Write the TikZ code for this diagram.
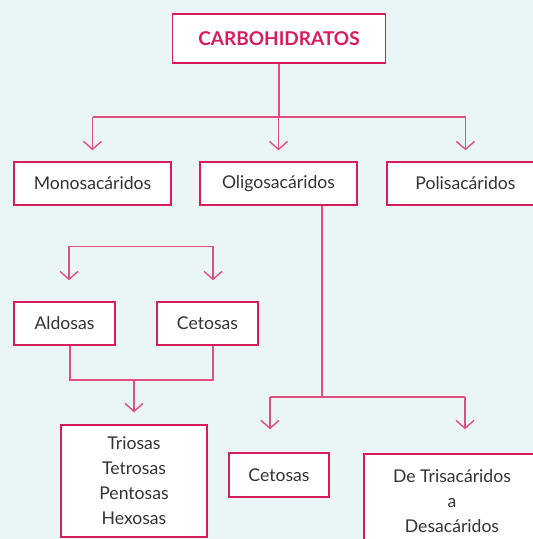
\documentclass[tikz,border=0pt]{standalone}
\usepackage{fontspec}
\setmainfont{Lato}
\usetikzlibrary{arrows.meta,calc}
\definecolor{bgc}{RGB}{234,246,246}
\definecolor{bordc}{RGB}{214,28,90}
\definecolor{connc}{RGB}{222,80,128}
\definecolor{txtc}{RGB}{51,51,51}
\tikzset{
  box/.style={draw=bordc, line width=1.4pt, fill=white, text=txtc, inner sep=0pt,
    font=\fontsize{17.6}{25}\selectfont, align=center},
  conn/.style={draw=connc, line width=1.4pt},
  arr/.style={conn, -{Straight Barb[length=8pt,width=18pt,line width=1.4pt]}},
}
\begin{document}
\begin{tikzpicture}[x=1pt,y=-1pt]
\fill[bgc] (0,0) rectangle (533,539);
\useasboundingbox (0,0) rectangle (533,539);
\begin{scope}
\clip (0,0) rectangle (533,539);
% nodes
\node[box, minimum width=213pt, minimum height=49pt, text=bordc,
  font=\fontsize{19}{23}\selectfont\bfseries] (carbo) at (279,38.5) {CARBOHIDRATOS};
\node[box, minimum width=157pt, minimum height=43pt] (mono) at (92.5,183.5) {Monosacáridos};
\node[box, minimum width=157pt, minimum height=43pt] (oligo) at (278.5,183.5) {Oligosacáridos};
\node[box, minimum width=157pt, minimum height=43pt] (poli) at (465.5,183.5) {Polisacáridos};
\node[box, minimum width=101pt, minimum height=43pt] (ald) at (64.5,323.5) {Aldosas};
\node[box, minimum width=101pt, minimum height=43pt] (cet) at (207.5,323.5) {Cetosas};
\node[box, minimum width=146pt, minimum height=112pt] (tri) at (134,481) {Triosas\\Tetrosas\\Pentosas\\Hexosas};
\node[box, minimum width=100pt, minimum height=44pt] (cet2) at (279,475) {Cetosas};
\node[box, minimum width=176pt, minimum height=94pt] (detri) at (452,501) {De Trisacáridos\\a\\Desacáridos};
% top connectors
\coordinate (j1) at (279,117);
\draw[conn] (carbo.south) -- (carbo.south |- j1);
\draw[conn] (mono.north |- j1) -- (poli.north |- j1);
\draw[arr, shorten >=11pt] (mono.north |- j1) -- (mono.north);
\draw[arr, shorten >=11pt] (oligo.north |- j1) -- (oligo.north);
\draw[arr, shorten >=11pt] (poli.north |- j1) -- (poli.north);
% left subtree
\coordinate (la) at ($(ald.north)+(4.5,-55)$);
\coordinate (lc) at ($(cet.north)+(5.5,-55)$);
\draw[conn] (la) -- (lc);
\draw[arr, shorten >=21pt] (la) -- (la |- ald.north);
\draw[arr, shorten >=21pt] (lc) -- (lc |- cet.north);
\coordinate (ba) at ($(ald.south)+(5.5,0)$);
\coordinate (bc) at ($(cet.south)+(5.5,0)$);
\coordinate (jm) at (tri.north |- 0,380);
\draw[conn] (ba) -- (ba |- jm) -- (bc |- jm) -- (bc);
\draw[arr, shorten >=12pt] (jm) -- (tri.north);
% oligo subtree
\coordinate (os) at ($(oligo.south)+(43.5,0)$);
\coordinate (oj) at (os |- 0,397);
\coordinate (oc) at ($(cet2.north)+(-9,0)$);
\coordinate (od) at ($(detri.north)+(13,0)$);
\draw[conn] (os) -- (oj);
\draw[conn] (oc |- oj) -- (od |- oj);
\draw[arr, shorten >=23pt] (oc |- oj) -- (oc);
\draw[arr, shorten >=24pt] (od |- oj) -- (od);
\end{scope}
\end{tikzpicture}
\end{document}
